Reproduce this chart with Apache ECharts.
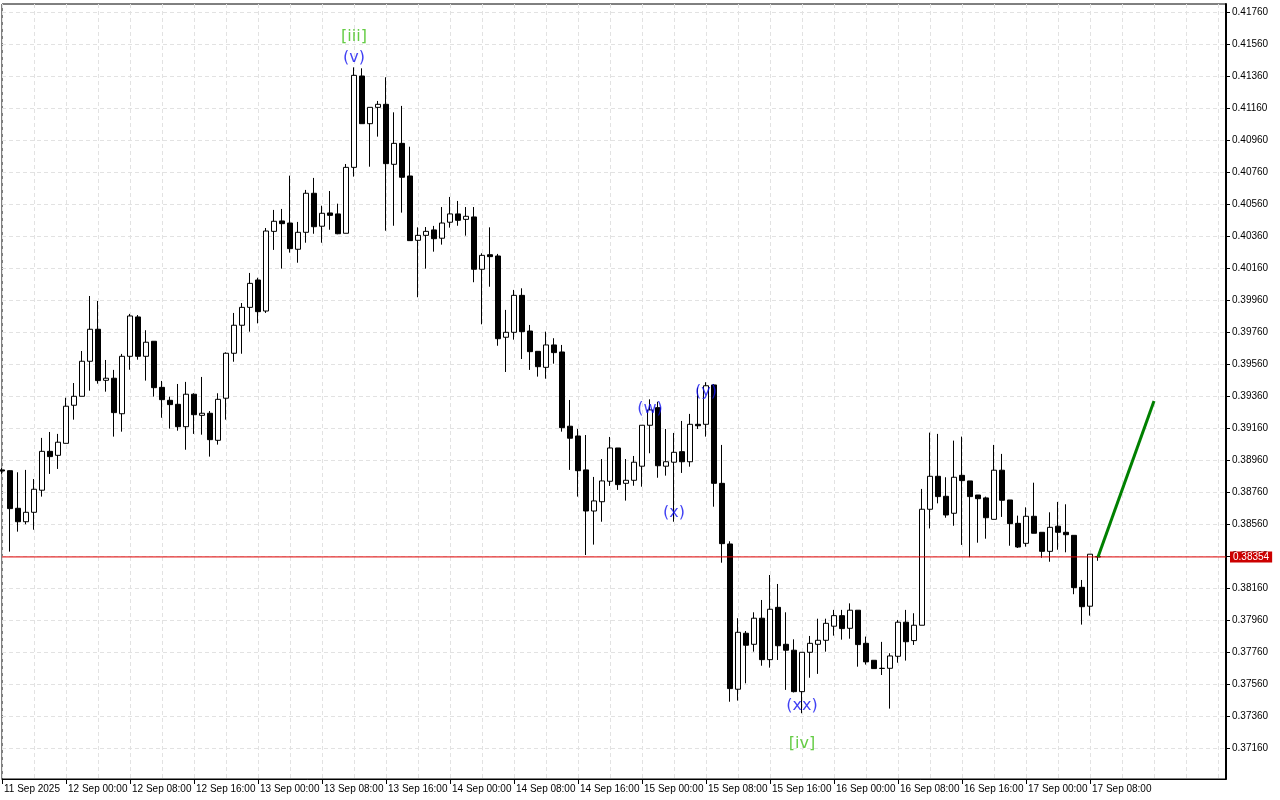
<!DOCTYPE html>
<html>
<head>
<meta charset="utf-8">
<script src="https://cdn.jsdelivr.net/npm/echarts@6/dist/echarts.min.js"></script>
<style>html,body{margin:0;padding:0;background:#fff}#c{width:1280px;height:800px}</style>
</head>
<body>
<div id="c"></div>
<script>
// Hourly bars from 11 Sep 2025 16:00 to 17 Sep 2025 09:00 (138 bars)
const opens = [0.38898,0.38893,0.38658,0.38574,0.38633,0.38771,0.39014,0.38989,0.39064,0.39302,
0.39358,0.39577,0.39777,0.39458,0.39471,0.39249,0.39608,0.39854,0.39608,0.39702,
0.39414,0.39333,0.39308,0.39168,0.39371,0.39239,0.39252,0.39083,0.39346,0.39627,
0.39802,0.39914,0.40085,0.39891,0.40389,0.40454,0.40441,0.40277,0.40383,0.40627,
0.40421,0.40504,0.40498,0.40377,0.40789,0.41360,0.41062,0.41164,0.41183,0.40808,
0.40939,0.40735,0.40333,0.40364,0.40398,0.40346,0.40446,0.40498,0.40464,0.40479,
0.40152,0.40243,0.40235,0.39727,0.39758,0.39989,0.39766,0.39639,0.39539,0.39679,
0.39635,0.39171,0.39110,0.38898,0.38641,0.38699,0.38827,0.39035,0.38814,0.38833,
0.38921,0.39177,0.39287,0.38921,0.38946,0.39012,0.38949,0.39183,0.39183,0.39429,
0.38814,0.38435,0.37527,0.37877,0.37808,0.37971,0.37712,0.38039,0.37808,0.37771,
0.37512,0.37758,0.37808,0.37833,0.37921,0.37987,0.37908,0.38021,0.37814,0.37708,
0.37658,0.37658,0.37733,0.37946,0.37831,0.37927,0.38652,0.38858,0.38733,0.38627,
0.38864,0.38829,0.38741,0.38723,0.38589,0.38896,0.38710,0.38564,0.38439,0.38608,
0.38508,0.38389,0.38546,0.38508,0.38489,0.38164,0.38046,0.38356];
const closes = [0.38891,0.38656,0.38574,0.38633,0.38777,0.39014,0.38981,0.39071,0.39296,0.39358,
0.39577,0.39777,0.39456,0.39471,0.39256,0.39608,0.39860,0.39608,0.39696,0.39412,
0.39337,0.39306,0.39168,0.39371,0.39243,0.39252,0.39087,0.39339,0.39627,0.39802,
0.39914,0.40064,0.39887,0.40391,0.40452,0.40437,0.40281,0.40383,0.40627,0.40418,
0.40502,0.40489,0.40374,0.40789,0.41364,0.41062,0.41164,0.41183,0.40812,0.40939,
0.40727,0.40331,0.40364,0.40389,0.40343,0.40441,0.40498,0.40458,0.40483,0.40152,
0.40239,0.40231,0.39718,0.39758,0.39989,0.39762,0.39637,0.39543,0.39679,0.39631,
0.39162,0.39096,0.38893,0.38641,0.38704,0.38829,0.39035,0.38806,0.38833,0.38946,
0.39177,0.39273,0.38924,0.38949,0.39008,0.38949,0.39183,0.39174,0.39424,0.38814,
0.38437,0.37531,0.37883,0.37802,0.37971,0.37712,0.38027,0.37799,0.37771,0.37512,
0.37758,0.37814,0.37833,0.37939,0.37987,0.37906,0.38021,0.37806,0.37698,0.37656,
0.37657,0.37735,0.37946,0.37824,0.37927,0.38652,0.38858,0.38731,0.38616,0.38852,
0.38831,0.38731,0.38718,0.38599,0.38896,0.38708,0.38562,0.38416,0.38608,0.38502,
0.38389,0.38539,0.38508,0.38493,0.38162,0.38043,0.38371,0.38354];
const lows = [0.38873,0.38387,0.38512,0.38558,0.38524,0.38731,0.38873,0.38904,0.39064,0.39212,
0.39358,0.39393,0.39437,0.39387,0.39106,0.39137,0.39524,0.39587,0.39456,0.39356,
0.39224,0.39156,0.39143,0.39024,0.39123,0.39118,0.38981,0.39056,0.39212,0.39574,
0.39624,0.39762,0.39814,0.39879,0.40273,0.40156,0.40256,0.40193,0.40318,0.40374,
0.40318,0.40399,0.40371,0.40377,0.40731,0.41062,0.40793,0.40981,0.40393,0.40424,
0.40506,0.40331,0.39977,0.40156,0.40262,0.40306,0.40412,0.40424,0.40362,0.40071,
0.39808,0.40043,0.39674,0.39510,0.39712,0.39591,0.39523,0.39481,0.39468,0.39562,
0.39137,0.38898,0.38731,0.38366,0.38431,0.38574,0.38798,0.38773,0.38706,0.38799,
0.38793,0.39002,0.38849,0.38862,0.38574,0.38879,0.38918,0.39154,0.39106,0.38668,
0.38318,0.37449,0.37456,0.37564,0.37762,0.37674,0.37662,0.37710,0.37523,0.37507,
0.37377,0.37599,0.37623,0.37762,0.37862,0.37837,0.37843,0.37668,0.37681,0.37656,
0.37616,0.37406,0.37693,0.37706,0.37804,0.37927,0.38532,0.38689,0.38599,0.38549,
0.38429,0.38352,0.38443,0.38468,0.38589,0.38604,0.38424,0.38410,0.38418,0.38502,
0.38349,0.38324,0.38399,0.38383,0.38121,0.37931,0.37987,0.38330];
const highs = [0.38910,0.38895,0.38883,0.38898,0.38841,0.39098,0.39135,0.39123,0.39349,0.39441,
0.39641,0.39985,0.39954,0.39585,0.39523,0.39623,0.39873,0.39866,0.39771,0.39702,
0.39454,0.39356,0.39435,0.39448,0.39377,0.39479,0.39266,0.39377,0.39633,0.39879,
0.39941,0.40129,0.40099,0.40410,0.40523,0.40529,0.40737,0.40448,0.40648,0.40723,
0.40549,0.40641,0.40562,0.40810,0.41414,0.41408,0.41164,0.41204,0.41352,0.41133,
0.41173,0.40918,0.40414,0.40416,0.40423,0.40541,0.40604,0.40579,0.40541,0.40541,
0.40252,0.40414,0.40248,0.39898,0.40023,0.40033,0.39804,0.39639,0.39762,0.39721,
0.39679,0.39335,0.39154,0.39116,0.38854,0.38966,0.39104,0.39035,0.38966,0.38985,
0.39177,0.39339,0.39324,0.39154,0.39129,0.39204,0.39248,0.39412,0.39446,0.39435,
0.39054,0.38452,0.37971,0.37891,0.38008,0.38085,0.38241,0.38185,0.38008,0.37839,
0.37758,0.37860,0.37968,0.37968,0.38023,0.38023,0.38064,0.38021,0.37856,0.37708,
0.37823,0.37752,0.37960,0.38023,0.38002,0.38779,0.39131,0.39123,0.38852,0.39081,
0.39106,0.38829,0.38741,0.38731,0.39054,0.38998,0.38710,0.38612,0.38664,0.38818,
0.38508,0.38633,0.38698,0.38683,0.38489,0.38210,0.38371,0.38358];

const priceTicks = [0.37160,0.37360,0.37560,0.37760,0.37960,0.38160,0.38360,0.38560,0.38760,0.38960,
0.39160,0.39360,0.39560,0.39760,0.39960,0.40160,0.40360,0.40560,0.40760,0.40960,
0.41160,0.41360,0.41560,0.41760];

const bidPrice = 0.38354;
// projection line: [bar index, price]
const projection = [[137, 0.38354], [144, 0.39329]];
// wave labels: [bar index, price, text, colour]
const waveLabels = [
  [44, 0.41604, '[iii]', '#3fbf16'],
  [44, 0.41473, '(v)', '#1010f0'],
  [81, 0.39279, '(w)', '#1010f0'],
  [84, 0.38629, '(x)', '#1010f0'],
  [88, 0.39385, '(y)', '#1010f0'],
  [100, 0.37423, '(xx)', '#1010f0'],
  [100, 0.37185, '[iv]', '#3fbf16']
];

const TOTAL = 154; // 138 bars + empty space to the right
const months = ['Jan','Feb','Mar','Apr','May','Jun','Jul','Aug','Sep','Oct','Nov','Dec'];
const categories = [];
const start = Date.UTC(2025, 8, 11, 16);
for (let i = 0; i < TOTAL; i++) {
  const d = new Date(start + i * 3600000);
  const hh = String(d.getUTCHours()).padStart(2, '0');
  if (i === 0) categories.push(d.getUTCDate() + ' ' + months[d.getUTCMonth()] + ' ' + d.getUTCFullYear());
  else categories.push(d.getUTCDate() + ' ' + months[d.getUTCMonth()] + ' ' + hh + ':00');
}
const nBars = opens.length;
const candles = opens.map((o, i) => [o, closes[i], lows[i], highs[i]]);
const bidLine = [[0, bidPrice], [TOTAL - 1, bidPrice]];

const axisFont = 'Liberation Sans';
const yMin = 0.36966, yMax = 0.41810;
const chart = echarts.init(document.getElementById('c'), null, {renderer: 'canvas'});
chart.setOption({
  animation: false,
  backgroundColor: '#ffffff',
  grid: {left: 2, right: 54, top: 4, bottom: 21, show: true, borderColor: '#000', borderWidth: 1, backgroundColor: '#fff'},
  xAxis: {
    type: 'category',
    data: categories,
    boundaryGap: false,
    axisLine: {show: true, lineStyle: {color: '#000', width: 1}},
    axisTick: {show: true, length: 5, lineStyle: {color: '#000'}, interval: (i) => i % 8 === 0 && i < nBars},
    axisLabel: {show: true, interval: (i) => i % 8 === 0 && i < nBars, align: 'left', margin: 5,
      color: '#000', fontFamily: axisFont, fontSize: 10, padding: [0, 0, 0, 2]},
    splitLine: {show: true, interval: 3, lineStyle: {color: '#e2e2e2', type: [4, 3], width: 1}}
  },
  yAxis: [{
    type: 'value',
    position: 'right',
    min: yMin,
    max: yMax,
    scale: true,
    axisLine: {show: true, lineStyle: {color: '#000', width: 2}},
    axisTick: {show: true, inside: false, length: 4, lineStyle: {color: '#000'}, customValues: priceTicks},
    axisLabel: {show: true, customValues: priceTicks, margin: 6, color: '#000', fontFamily: axisFont, fontSize: 10,
      formatter: (v) => v.toFixed(5)},
    splitLine: {show: true, lineStyle: {color: '#e2e2e2', type: [4, 3], width: 1}}
  }, {
    type: 'value',
    position: 'right',
    min: yMin,
    max: yMax,
    scale: true,
    axisLine: {show: false},
    axisTick: {show: false, customValues: [bidPrice]},
    splitLine: {show: false},
    axisLabel: {show: true, customValues: [bidPrice], margin: 4, color: '#fff', fontFamily: axisFont, fontSize: 10,
      backgroundColor: '#cc0000', padding: [1, 3, 0, 3], formatter: (v) => v.toFixed(5)}
  }],
  series: [
    {
      type: 'candlestick',
      data: candles,
      barWidth: 5,
      z: 3,
      itemStyle: {color: '#ffffff', color0: '#000000', borderColor: '#000000', borderColor0: '#000000', borderWidth: 1}
    },
    {
      type: 'line',
      data: bidLine,
      symbol: 'none',
      z: 4,
      silent: true,
      lineStyle: {color: '#e00000', width: 1}
    },
    {
      type: 'line',
      data: projection,
      symbol: 'none',
      z: 5,
      lineStyle: {color: '#008000', width: 3},
      silent: true
    },
    {
      type: 'scatter',
      symbolSize: 0,
      z: 6,
      silent: true,
      data: waveLabels.map(w => ({value: [w[0], w[1]], label: {formatter: w[2], color: w[3]}})),
      label: {show: true, position: 'inside', fontFamily: 'DejaVu Sans', fontSize: 16}
    }
  ]
});
</script>
</body>
</html>
